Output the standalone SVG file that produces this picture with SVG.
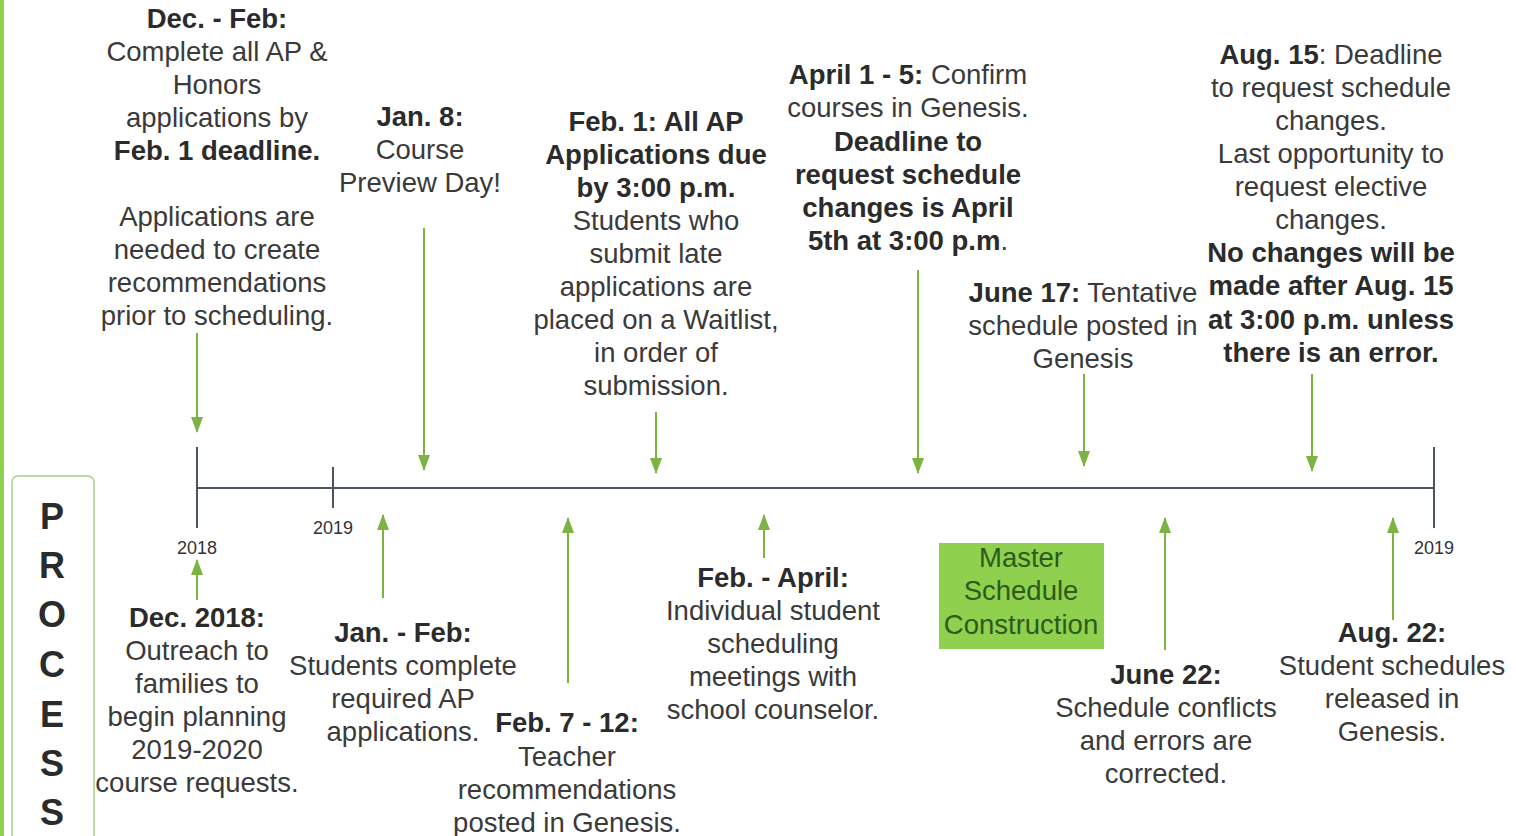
<svg xmlns="http://www.w3.org/2000/svg" width="1516" height="836" viewBox="0 0 1516 836">
<style>
text{font-family:"Liberation Sans",Arial,sans-serif;fill:#3a3a3a;text-anchor:middle}
.t{font-size:27.5px}
.b{font-weight:bold;fill:#2b2b2b}
.yr{font-size:18px;fill:#333}
.pr{font-size:36px;font-weight:bold;fill:#2b2b2b}
.ms{font-size:27.5px;fill:#2d5a1b}
.arr{stroke:#7cb342;stroke-width:2;fill:none;marker-end:url(#ah)}
.axis{stroke:#4b5560;stroke-width:2;fill:none}
</style>
<defs>
<marker id="ah" markerUnits="userSpaceOnUse" markerWidth="16" markerHeight="12" refX="15" refY="6" orient="auto" viewBox="0 0 16 12">
<path d="M0,0 L16,6 L0,12 Z" fill="#7cb342"/>
</marker>
</defs>
<rect x="0" y="0" width="1516" height="836" fill="#ffffff"/>
<rect x="0" y="0" width="4" height="836" fill="#8fd14f"/>

<g id="timeline">
<line class="axis" x1="197" y1="488" x2="1434" y2="488"/>
<line class="axis" x1="197" y1="447" x2="197" y2="528"/>
<line class="axis" x1="333" y1="467" x2="333" y2="508"/>
<line class="axis" x1="1434" y1="447" x2="1434" y2="528"/>
<text class="yr" x="197" y="554">2018</text>
<text class="yr" x="333" y="534">2019</text>
<text class="yr" x="1434" y="554">2019</text>
</g>

<g id="connectors">
<path class="arr" d="M197,333 V432"/>
<path class="arr" d="M424,228 V470"/>
<path class="arr" d="M656,412 V473"/>
<path class="arr" d="M918,270 V473"/>
<path class="arr" d="M1084,374 V466"/>
<path class="arr" d="M1312,374 V471"/>
<path class="arr" d="M197,600 V560"/>
<path class="arr" d="M383,598 V515"/>
<path class="arr" d="M568,683 V518"/>
<path class="arr" d="M764,558 V515"/>
<path class="arr" d="M1165,650 V518"/>
<path class="arr" d="M1393,620 V518"/>
</g>

<g id="process">
<rect x="12" y="476" width="82" height="380" rx="6" fill="#ffffff" stroke="#a9cf8e" stroke-width="1.5"/>
<text class="pr" x="52" y="529">P</text>
<text class="pr" x="52" y="578">R</text>
<text class="pr" x="52" y="627">O</text>
<text class="pr" x="52" y="677">C</text>
<text class="pr" x="52" y="727">E</text>
<text class="pr" x="52" y="776">S</text>
<text class="pr" x="52" y="825">S</text>
</g>

<g id="dec-feb">
<text class="t b" x="217" y="28">Dec. - Feb:</text>
<text class="t" x="217" y="61">Complete all AP &amp;</text>
<text class="t" x="217" y="94">Honors</text>
<text class="t" x="217" y="127">applications by</text>
<text class="t b" x="217" y="160">Feb. 1 deadline.</text>
<text class="t" x="217" y="226">Applications are</text>
<text class="t" x="217" y="259">needed to create</text>
<text class="t" x="217" y="292">recommendations</text>
<text class="t" x="217" y="325">prior to scheduling.</text>
</g>

<g id="jan8">
<text class="t b" x="420" y="126">Jan. 8:</text>
<text class="t" x="420" y="159">Course</text>
<text class="t" x="420" y="192">Preview Day!</text>
</g>

<g id="feb1">
<text class="t b" x="656" y="131">Feb. 1: All AP</text>
<text class="t b" x="656" y="164">Applications due</text>
<text class="t b" x="656" y="197">by 3:00 p.m.</text>
<text class="t" x="656" y="230">Students who</text>
<text class="t" x="656" y="263">submit late</text>
<text class="t" x="656" y="296">applications are</text>
<text class="t" x="656" y="329">placed on a Waitlist,</text>
<text class="t" x="656" y="362">in order of</text>
<text class="t" x="656" y="395">submission.</text>
</g>

<g id="april">
<text class="t" x="908" y="84"><tspan class="b">April 1 - 5:</tspan> Confirm</text>
<text class="t" x="908" y="117">courses in Genesis.</text>
<text class="t b" x="908" y="151">Deadline to</text>
<text class="t b" x="908" y="184">request schedule</text>
<text class="t b" x="908" y="217">changes is April</text>
<text class="t" x="908" y="250"><tspan class="b">5th at 3:00 p.m</tspan>.</text>
</g>

<g id="june17">
<text class="t" x="1083" y="302"><tspan class="b">June 17:</tspan> Tentative</text>
<text class="t" x="1083" y="335">schedule posted in</text>
<text class="t" x="1083" y="368">Genesis</text>
</g>

<g id="aug15">
<text class="t" x="1331" y="64"><tspan class="b">Aug. 15</tspan>: Deadline</text>
<text class="t" x="1331" y="97">to request schedule</text>
<text class="t" x="1331" y="130">changes.</text>
<text class="t" x="1331" y="163">Last opportunity to</text>
<text class="t" x="1331" y="196">request elective</text>
<text class="t" x="1331" y="229">changes.</text>
<text class="t b" x="1331" y="262">No changes will be</text>
<text class="t b" x="1331" y="295">made after Aug. 15</text>
<text class="t b" x="1331" y="329">at 3:00 p.m. unless</text>
<text class="t b" x="1331" y="362">there is an error.</text>
</g>

<g id="dec2018">
<text class="t b" x="197" y="627">Dec. 2018:</text>
<text class="t" x="197" y="660">Outreach to</text>
<text class="t" x="197" y="693">families to</text>
<text class="t" x="197" y="726">begin planning</text>
<text class="t" x="197" y="759">2019-2020</text>
<text class="t" x="197" y="792">course requests.</text>
</g>

<g id="jan-feb">
<text class="t b" x="403" y="642">Jan. - Feb:</text>
<text class="t" x="403" y="675">Students complete</text>
<text class="t" x="403" y="708">required AP</text>
<text class="t" x="403" y="741">applications.</text>
</g>

<g id="feb7-12">
<text class="t b" x="567" y="732">Feb. 7 - 12:</text>
<text class="t" x="567" y="766">Teacher</text>
<text class="t" x="567" y="799">recommendations</text>
<text class="t" x="567" y="832">posted in Genesis.</text>
</g>

<g id="feb-april">
<text class="t b" x="773" y="587">Feb. - April:</text>
<text class="t" x="773" y="620">Individual student</text>
<text class="t" x="773" y="653">scheduling</text>
<text class="t" x="773" y="686">meetings with</text>
<text class="t" x="773" y="719">school counselor.</text>
</g>

<g id="master">
<rect x="939" y="543" width="165" height="106" fill="#8fd14f"/>
<text class="ms" x="1021" y="567">Master</text>
<text class="ms" x="1021" y="600">Schedule</text>
<text class="ms" x="1021" y="634">Construction</text>
</g>

<g id="june22">
<text class="t b" x="1166" y="684">June 22:</text>
<text class="t" x="1166" y="717">Schedule conflicts</text>
<text class="t" x="1166" y="750">and errors are</text>
<text class="t" x="1166" y="783">corrected.</text>
</g>

<g id="aug22">
<text class="t b" x="1392" y="642">Aug. 22:</text>
<text class="t" x="1392" y="675">Student schedules</text>
<text class="t" x="1392" y="708">released in</text>
<text class="t" x="1392" y="741">Genesis.</text>
</g>
</svg>
